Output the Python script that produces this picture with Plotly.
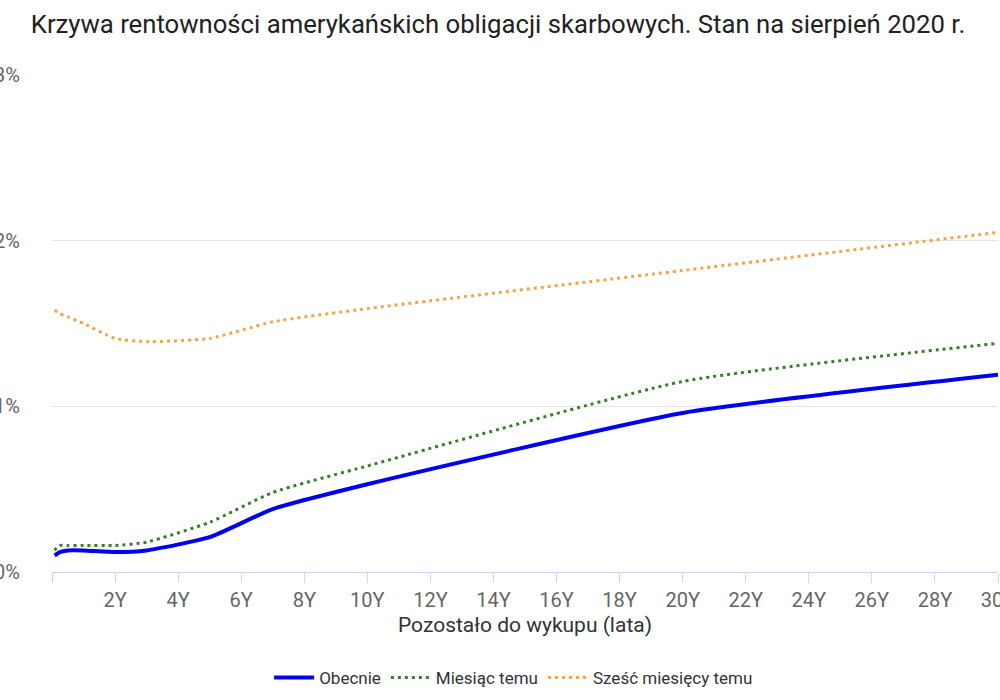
import plotly.graph_objects as go

# lata do wykupu: 1M, 2M, 3M, 6M, 1Y, 2Y, 3Y, 5Y, 7Y, 10Y, 20Y, 30Y
maturities = [0.083, 0.167, 0.25, 0.5, 1, 2, 3, 5, 7, 10, 20, 30]

obecnie = [0.10, 0.11, 0.12, 0.13, 0.13, 0.12, 0.13, 0.21, 0.38, 0.53, 0.96, 1.19]
miesiac_temu = [0.13, 0.15, 0.16, 0.16, 0.16, 0.16, 0.18, 0.30, 0.48, 0.64, 1.15, 1.38]
szesc_miesiecy_temu = [1.58, 1.57, 1.56, 1.54, 1.50, 1.41, 1.39, 1.41, 1.51, 1.59, 1.82, 2.05]

x_ticks = [0, 2, 4, 6, 8, 10, 12, 14, 16, 18, 20, 22, 24, 26, 28, 30]
x_labels = [""] + [f"{v}Y" for v in x_ticks[1:]]
y_ticks = [0, 1, 2, 3]
y_labels = ["0%", "1%", "2%", "3%"]

fig = go.Figure()
fig.add_trace(go.Scatter(x=maturities, y=obecnie, name="Obecnie", mode="lines",
                         line=dict(color="#0000ee", width=4, shape="spline", smoothing=0.5)))
fig.add_trace(go.Scatter(x=maturities, y=miesiac_temu, name="Miesiąc temu", mode="lines",
                         line=dict(color="#3a7d2e", width=3, dash="3px,4px", shape="spline", smoothing=0.5)))
fig.add_trace(go.Scatter(x=maturities, y=szesc_miesiecy_temu, name="Sześć miesięcy temu", mode="lines",
                         line=dict(color="#f2a446", width=3, dash="3px,4px", shape="spline", smoothing=0.5)))

fig.update_layout(
    width=1000, height=700,
    margin=dict(l=52, r=2, t=75, b=128),
    paper_bgcolor="white", plot_bgcolor="white",
    font=dict(family="Roboto", color="#333333"),
    title=dict(text="Krzywa rentowności amerykańskich obligacji skarbowych. Stan na sierpień 2020 r.",
               x=0.498, xanchor="center", y=0.965, yanchor="middle",
               font=dict(size=25.7, color="#222222")),
    showlegend=True,
    legend=dict(orientation="h", x=0.488, xanchor="center", y=-0.213, yanchor="middle",
                font=dict(size=17, color="#333333"), itemwidth=40, tracegroupgap=0),
    hovermode=False,
)
fig.update_xaxes(
    range=[0, 30], tickvals=x_ticks, ticktext=x_labels,
    showgrid=False, zeroline=False,
    showline=True, linecolor="#ccd6eb", linewidth=1,
    ticks="outside", ticklen=10, tickcolor="#ccd6eb",
    tickfont=dict(size=20, color="#666666"),
    ticklabeloverflow="allow",
    title=dict(text="Pozostało do wykupu (lata)", font=dict(size=21, color="#333333"), standoff=6),
    automargin=False,
)
fig.update_yaxes(
    range=[0, 3], tickvals=y_ticks, ticktext=y_labels,
    showgrid=True, gridcolor="#e6e6e6", zeroline=False, showline=False,
    tickfont=dict(size=20, color="#666666"),
    ticklabeloverflow="allow",
    ticklabelstandoff=31,
    automargin=False,
)

fig.write_html("out.html", config={"displayModeBar": False},
               post_script="document.body.style.margin='0';")
